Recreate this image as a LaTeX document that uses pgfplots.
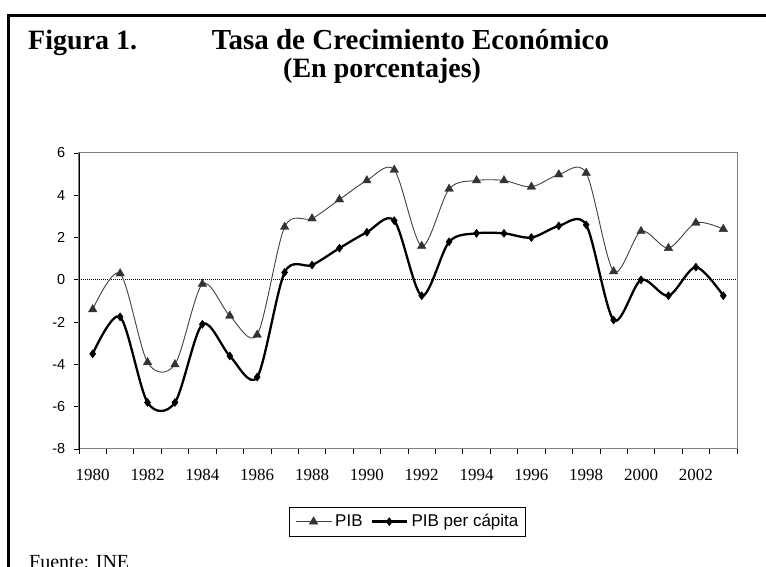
\documentclass[border=0pt]{standalone}
\usepackage{fontspec}
\setmainfont{Liberation Serif}
\newfontfamily\arialf{Liberation Sans}
\usepackage{pgfplots}
\pgfplotsset{compat=1.18}
\definecolor{pibline}{HTML}{404040}
\definecolor{pibmark}{HTML}{333333}
\begin{document}
\begin{tikzpicture}
\useasboundingbox (0pt,0pt) rectangle (766pt,567pt);
\draw[line width=2.5pt] (8.7pt,-10pt) -- (8.7pt,551.5pt) -- (790pt,551.5pt);
\node[anchor=base west, inner sep=0pt, font=\bfseries\fontsize{28}{28}\selectfont] at (28pt,517.7pt) {Figura 1.};
\node[anchor=base west, inner sep=0pt, font=\bfseries\fontsize{29}{29}\selectfont] at (211.7pt,517.7pt) {Tasa de Crecimiento Económico};
\node[anchor=base west, inner sep=0pt, font=\bfseries\fontsize{28}{28}\selectfont] at (283pt,489pt) {(En porcentajes)};
\node[anchor=base west, inner sep=0pt, font=\fontsize{20}{20}\selectfont] at (29pt,-1.5pt) {Fuente: INE};
\begin{axis}[
  at={(79pt,118pt)}, anchor=south west,
  scale only axis, width=658pt, height=296pt,
  xmin=1979.5, xmax=2003.5, ymin=-8, ymax=6,
  axis line style={draw=gray, line width=1pt},
  tick align=outside, major tick length=5pt,
  tick style={black, line width=0.8pt},
  xtick pos=bottom, ytick pos=left,
  xtick={1979.5,1980.5,...,2003.5}, xticklabels={},
  extra x ticks={1980,1982,...,2002},
  extra x tick labels={1980,1982,1984,1986,1988,1990,1992,1994,1996,1998,2000,2002},
  extra x tick style={major tick length=0pt, xticklabel style={font=\fontsize{17}{17}\selectfont, anchor=north, inner sep=0pt, yshift=-20pt}},
  ytick={-8,-6,...,6},
  /pgf/number format/assume math mode=true,
  yticklabel style={font=\arialf\fontsize{14.5}{14.5}\selectfont, anchor=east, inner sep=0pt, xshift=-8.5pt},
  legend columns=2,
  legend style={at={(axis description cs:0.4985,-0.2454)}, anchor=center, draw=black, line width=0.8pt,
    font=\arialf\fontsize{17}{17}\selectfont, inner xsep=6.5pt, inner ysep=6pt,
    nodes={inner xsep=0pt, inner ysep=0pt, text height=13pt, text depth=4pt},
    /tikz/every odd column/.append style={column sep=3.7pt},
    /tikz/every even column/.append style={column sep=8pt}},
  legend image code/.code={\draw[mark repeat=2,mark phase=2] plot coordinates {(0pt,0pt)(17.5pt,0pt)(35pt,0pt)};},
]
\draw[black, line width=0.8pt, dash pattern=on 1pt off 1pt] (axis cs:1979.5,0) -- (axis cs:2003.5,0);
\addplot[color=pibline, line width=0.9pt, smooth, tension=0.5, mark=triangle*, mark size=5pt, mark options={fill=pibmark, draw=pibmark, line width=0.3pt}]
coordinates {
(1980,-1.4)(1981,0.3)(1982,-3.9)(1983,-4.0)(1984,-0.2)(1985,-1.7)(1986,-2.6)(1987,2.5)
(1988,2.9)(1989,3.8)(1990,4.7)(1991,5.2)(1992,1.6)(1993,4.3)(1994,4.7)(1995,4.7)
(1996,4.4)(1997,4.98)(1998,5.05)(1999,0.4)(2000,2.3)(2001,1.5)(2002,2.7)(2003,2.4)
};
\addlegendentry{PIB}
\addplot[color=black, line width=2.3pt, smooth, tension=0.5, mark=diamond*, mark size=4pt, mark options={fill=black, line width=0.5pt}]
coordinates {
(1980,-3.5)(1981,-1.75)(1982,-5.8)(1983,-5.8)(1984,-2.1)(1985,-3.6)(1986,-4.6)(1987,0.35)
(1988,0.7)(1989,1.5)(1990,2.25)(1991,2.8)(1992,-0.75)(1993,1.8)(1994,2.2)(1995,2.2)
(1996,2.0)(1997,2.55)(1998,2.6)(1999,-1.9)(2000,0.0)(2001,-0.75)(2002,0.6)(2003,-0.75)
};
\addlegendentry{PIB per cápita}
\draw[black, line width=0.9pt] (rel axis cs:0,1) -- (rel axis cs:0,0) -- (rel axis cs:1,0);
\end{axis}
\end{tikzpicture}
\end{document}
